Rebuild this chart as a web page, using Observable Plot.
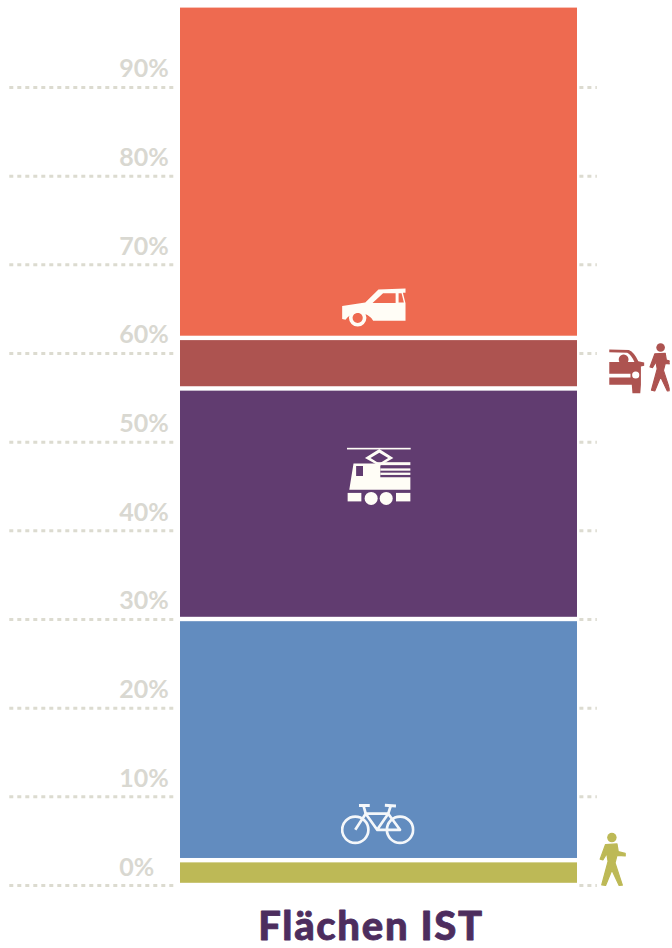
<!DOCTYPE html>
<html lang="de">
<head>
<meta charset="utf-8">
<script src="https://cdn.jsdelivr.net/npm/d3@7"></script>
<script src="https://cdn.jsdelivr.net/npm/@observablehq/plot@0.6"></script>
<style>
  html, body { margin: 0; padding: 0; background: #fff; }
  svg { display: block; }
  .column-title { letter-spacing: 1.7px; }
</style>
</head>
<body>
<div id="chart"></div>
<script>
// Flächenanteile je Verkehrsart, von unten nach oben gestapelt (in Prozent)
const modes = ["Fußverkehr", "Radverkehr", "Schiene", "Parken", "Autoverkehr"];
const shares = [2.8, 27.2, 26, 5.7, 37.5];
const colours = ["#bdb956", "#628cbf", "#613c70", "#ad5350", "#ee6a50"];
const ticks = [0, 10, 20, 30, 40, 50, 60, 70, 80, 90];
const columnTitle = "Flächen IST";

const segments = modes.map((mode, i) => ({mode, share: shares[i], colour: colours[i]}));

// Piktogramme als kleine SVG-Dateien
const svgUri = (viewBox, body) =>
  "data:image/svg+xml," + encodeURIComponent(
    `<svg xmlns="http://www.w3.org/2000/svg" viewBox="${viewBox}">${body}</svg>`);

const walker = (c) => `
  <circle cx="872" cy="170" r="15" fill="${c}"/>
  <path stroke="${c}" stroke-width="4" stroke-linejoin="round" d="M852 192 L888 190 L892 214 L914 220 L914 228 L888 226 L882 250 L905 320 L895 321 L872 272 L852 321 L840 319 L860 245 L856 220 L844 240 L835 238 Z" fill="${c}"/>`;

const carIcon = svgUri("30 50 200 125", `
  <path fill="#fffdf6" fill-rule="evenodd" d="M34 108 L104 98 L144 58 L226 55 L226 68 L218 68 L226 100 L226 153 L128 153 A50 50 0 0 0 44 150 L34 148 Z
    M126 99 L196 99 L196 70 L158 70 Z M205 70 L205 98 L221 98 L214 70 Z"/>
  <circle cx="81" cy="144" r="21" fill="none" stroke="#fffdf6" stroke-width="11"/>`);

const trainIcon = svgUri("45 530 202 185", `
  <g fill="#fffdf6">
    <rect x="48" y="534" width="195" height="5"/>
    <path fill-rule="evenodd" d="M103 565 L147 538 L190 565 L147 590 Z M120 565 L147 582 L174 565 L147 549 Z"/>
    <rect x="140" y="578" width="102" height="9"/>
    <rect x="150" y="597" width="92" height="7"/>
    <rect x="150" y="610" width="92" height="7"/>
    <path fill-rule="evenodd" d="M68 582 L150 582 L150 624 L242 624 L242 662 L55 662 Z M76 590 L76 620 L97 620 L97 590 Z"/>
    <rect x="50" y="672" width="42" height="26"/>
    <rect x="198" y="672" width="44" height="26"/>
    <circle cx="122" cy="689" r="20"/>
    <circle cx="168" cy="689" r="20"/>
  </g>`);

const bikeIcon = svgUri("64 66 220 126", `
  <g fill="none" stroke="#f4f7fa" stroke-width="8" stroke-linejoin="round">
    <circle cx="107" cy="148" r="39"/>
    <circle cx="240" cy="148" r="39"/>
    <path d="M107 148 L138 100 L205 100 L172 148 L138 100 M205 100 L240 148 L172 148"/>
    <path d="M132 78 L138 100 M212 78 L205 100"/>
    <path d="M118 76 L150 76 M195 75 L228 77" stroke-width="9"/>
  </g>`);

const parkWalkIcon = svgUri("830 205 190 165", `
  <g fill="#ad5350">
    <path d="M835 232 L895 233 Q912 240 924 268 L942 272 L942 282 L932 284 L932 340 L930 366 L906 366 L904 340 L835 340 L835 318 L900 318 L900 306 L835 306 L835 270 L866 270 A15 15 0 1 1 892 270 L912 270 Q902 248 890 242 L835 240 Z"/>
    <circle cx="916" cy="310" r="11" fill="#fff"/>
  </g>
  <g transform="translate(225 76) scale(0.88)">${walker("#ad5350")}</g>`);

const walkIcon = svgUri("825 150 100 180", walker("#bdb956"));

// Piktogramme, in Koordinaten der Skalen platziert
const icons = [
  {src: walkIcon, x: 108.9, y: 2.9, size: 57},
  {src: bikeIcon, x: 49.7, y: 7, size: 74},
  {src: trainIcon, x: 50, y: 46.1, size: 66},
  {src: parkWalkIcon, x: 115.4, y: 58.4, size: 62},
  {src: carIcon, x: 48.7, y: 65.2, size: 66}
];

const dotted = {stroke: "#dcdbd0", strokeWidth: 3, strokeDasharray: "4 4"};

const plot = Plot.plot({
  width: 672,
  height: 948,
  margin: 0,
  x: {domain: [0, 100], range: [180, 577], axis: null},
  y: {domain: [0, 100], range: [885, -1.7], axis: null},
  marks: [
    Plot.ruleY(ticks, {x1: -43, x2: -1.2, y: d => d, ...dotted}),
    Plot.ruleY(ticks, {x1: 100.6, x2: 105, y: d => d, ...dotted}),
    Plot.rectY(segments, {
      x1: 0, x2: 100, y: "share", fill: "colour",
      order: null, insetTop: 2.2, insetBottom: 2.2
    }),
    Plot.text(ticks, {
      x: -15.4, y: d => d, dy: -18, text: d => `${d}%`,
      textAnchor: "start", fill: "#d9d8d1",
      fontFamily: "Lato", fontWeight: 700, fontSize: 25
    }),
    Plot.image(icons, {x: "x", y: "y", src: "src", width: "size", height: "size"}),
    Plot.text([columnTitle], {
      x: 48, y: -4.65, text: d => d, fill: "#4d2d5e",
      stroke: "#4d2d5e", strokeWidth: 0.8,
      fontFamily: "Lato", fontWeight: 900, fontSize: 40,
      className: "column-title"
    })
  ]
});
document.getElementById("chart").append(plot);
</script>
</body>
</html>
